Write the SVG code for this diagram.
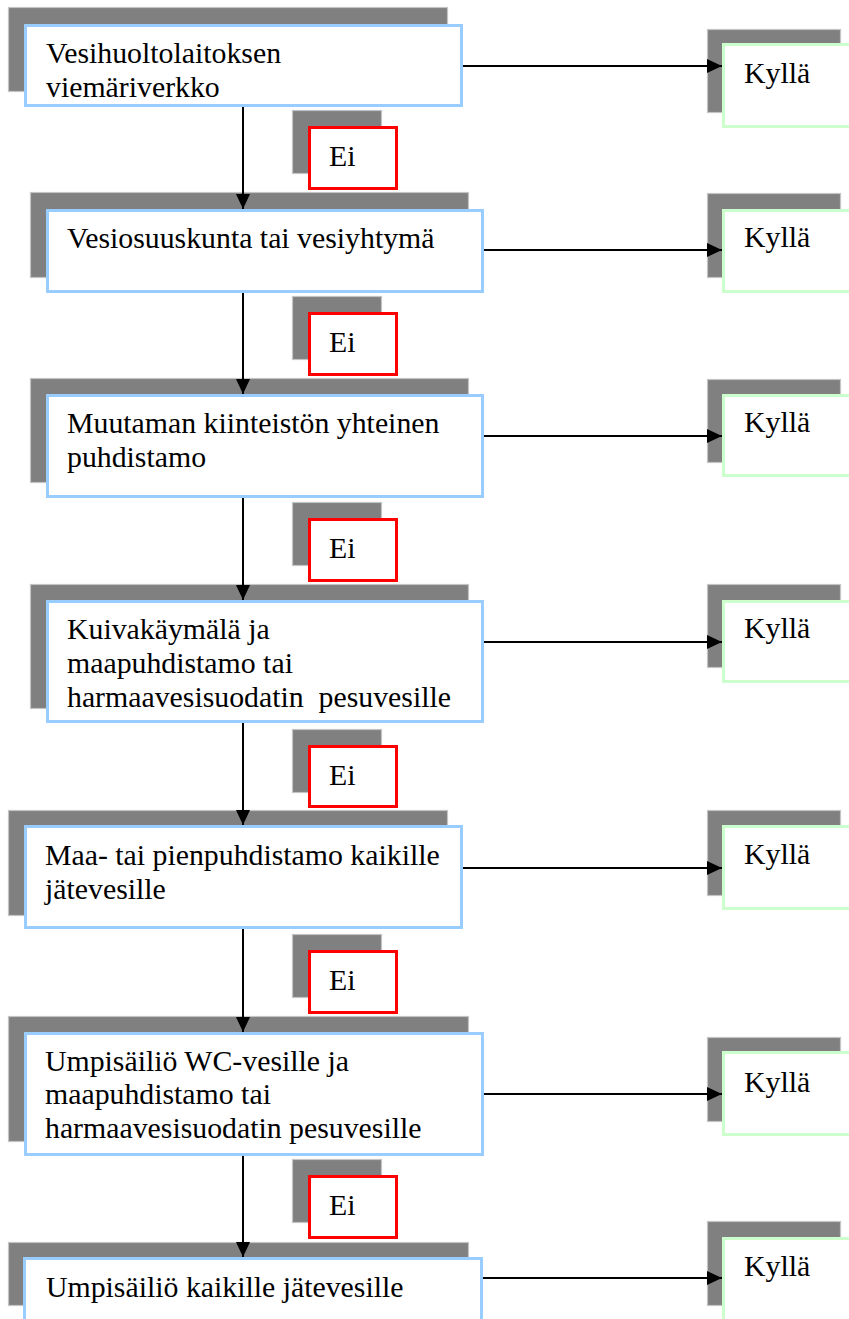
<svg xmlns="http://www.w3.org/2000/svg" width="849" height="1319" viewBox="0 0 849 1319">
<style>
.sh{fill:#808080;stroke:#c4c4c4;stroke-width:1.2}
.main{fill:#fff;stroke:#99ccff;stroke-width:3}
.yes{fill:#fff;stroke:#ccffcc;stroke-width:3}
.no{fill:#fff;stroke:#ff0000;stroke-width:3}
text{font-family:"Liberation Serif","Times New Roman",serif;font-size:29.8px;fill:#000}
.c{stroke:#000;stroke-width:2;fill:none;marker-end:url(#ah)}
</style>
<defs>
<marker id="ah" markerUnits="userSpaceOnUse" markerWidth="16" markerHeight="15" refX="15" refY="7" orient="auto">
<path d="M0,0 L15,7 L0,14 z" fill="#000"/>
</marker>
</defs>
<rect width="849" height="1319" fill="#fff"/>

<g id="n1"><rect class="sh" x="8.5" y="7.5" width="439" height="84"/><rect class="main" x="25.5" y="25.5" width="436" height="80"/><text x="46" y="63">Vesihuoltolaitoksen</text><text x="46" y="97">viemäriverkko</text></g>
<g id="n2"><rect class="sh" x="30.5" y="192.5" width="438" height="85"/><rect class="main" x="47.5" y="210.5" width="435" height="81"/><text x="67" y="248">Vesiosuuskunta tai vesiyhtymä</text></g>
<g id="n3"><rect class="sh" x="30.5" y="378.5" width="438" height="104"/><rect class="main" x="47.5" y="395.5" width="435" height="101"/><text x="67" y="433">Muutaman kiinteistön yhteinen</text><text x="67" y="467">puhdistamo</text></g>
<g id="n4"><rect class="sh" x="30.5" y="584.5" width="438" height="124"/><rect class="main" x="47.5" y="601.5" width="435" height="120"/><text x="67" y="639">Kuivakäymälä ja</text><text x="67" y="673">maapuhdistamo tai</text><text x="67" y="707" xml:space="preserve" style="white-space:pre">harmaavesisuodatin  pesuvesille</text></g>
<g id="n5"><rect class="sh" x="8.5" y="810.5" width="439" height="105"/><rect class="main" x="25.5" y="826.5" width="436" height="101"/><text x="45" y="865">Maa- tai pienpuhdistamo kaikille</text><text x="45" y="899">jätevesille</text></g>
<g id="n6"><rect class="sh" x="8.5" y="1016.5" width="460" height="125"/><rect class="main" x="25.5" y="1033.5" width="457" height="121"/><text x="45" y="1071">Umpisäiliö WC-vesille ja</text><text x="45" y="1104">maapuhdistamo tai</text><text x="45" y="1138">harmaavesisuodatin pesuvesille</text></g>
<g id="n7"><rect class="sh" x="8.5" y="1242.5" width="460" height="63"/><rect class="main" x="24.5" y="1258.5" width="457" height="62"/><text x="46" y="1297">Umpisäiliö kaikille jätevesille</text></g>

<g id="k1"><rect class="sh" x="707.5" y="29.5" width="133" height="83"/><rect class="yes" x="723.5" y="44.5" width="131" height="82"/><text x="744" y="83">Kyllä</text></g>
<g id="k2"><rect class="sh" x="707.5" y="193.5" width="133" height="84"/><rect class="yes" x="723.5" y="210.5" width="131" height="81"/><text x="744" y="247">Kyllä</text></g>
<g id="k3"><rect class="sh" x="707.5" y="379.5" width="133" height="83"/><rect class="yes" x="723.5" y="395.5" width="131" height="80"/><text x="744" y="432">Kyllä</text></g>
<g id="k4"><rect class="sh" x="707.5" y="584.5" width="133" height="83"/><rect class="yes" x="723.5" y="601.5" width="131" height="80"/><text x="744" y="638">Kyllä</text></g>
<g id="k5"><rect class="sh" x="707.5" y="810.5" width="133" height="85"/><rect class="yes" x="723.5" y="826.5" width="131" height="82"/><text x="744" y="864">Kyllä</text></g>
<g id="k6"><rect class="sh" x="707.5" y="1037.5" width="133" height="84"/><rect class="yes" x="723.5" y="1052.5" width="131" height="82"/><text x="744" y="1092">Kyllä</text></g>
<g id="k7"><rect class="sh" x="707.5" y="1221.5" width="133" height="84"/><rect class="yes" x="723.5" y="1238.5" width="131" height="82"/><text x="744" y="1276">Kyllä</text></g>

<g id="e1"><rect class="sh" x="292.5" y="110.5" width="89" height="63"/><rect class="no" x="309.5" y="127.5" width="87" height="61"/><text x="329" y="166">Ei</text></g>
<g id="e2"><rect class="sh" x="292.5" y="296.5" width="89" height="63"/><rect class="no" x="309.5" y="313.5" width="87" height="61"/><text x="329" y="352">Ei</text></g>
<g id="e3"><rect class="sh" x="292.5" y="502.5" width="89" height="63"/><rect class="no" x="309.5" y="519.5" width="87" height="61"/><text x="329" y="558">Ei</text></g>
<g id="e4"><rect class="sh" x="292.5" y="729.5" width="89" height="63"/><rect class="no" x="309.5" y="746.5" width="87" height="60"/><text x="329" y="785">Ei</text></g>
<g id="e5"><rect class="sh" x="292.5" y="934.5" width="89" height="63"/><rect class="no" x="309.5" y="951.5" width="87" height="61"/><text x="329" y="990">Ei</text></g>
<g id="e6"><rect class="sh" x="292.5" y="1159.5" width="89" height="63"/><rect class="no" x="309.5" y="1176.5" width="87" height="61"/><text x="329" y="1215">Ei</text></g>

<g id="connectors">
<line class="c" x1="243" y1="107" x2="243" y2="209"/>
<line class="c" x1="243" y1="293" x2="243" y2="394"/>
<line class="c" x1="243" y1="498" x2="243" y2="600"/>
<line class="c" x1="243" y1="723" x2="243" y2="825"/>
<line class="c" x1="243" y1="929" x2="243" y2="1032"/>
<line class="c" x1="243" y1="1156" x2="243" y2="1257"/>
<line class="c" x1="463" y1="66" x2="722" y2="66"/>
<line class="c" x1="484" y1="250" x2="722" y2="250"/>
<line class="c" x1="484" y1="436" x2="722" y2="436"/>
<line class="c" x1="484" y1="642" x2="722" y2="642"/>
<line class="c" x1="463" y1="868" x2="722" y2="868"/>
<line class="c" x1="484" y1="1094" x2="722" y2="1094"/>
<line class="c" x1="483" y1="1278" x2="722" y2="1278"/>
</g>
</svg>
